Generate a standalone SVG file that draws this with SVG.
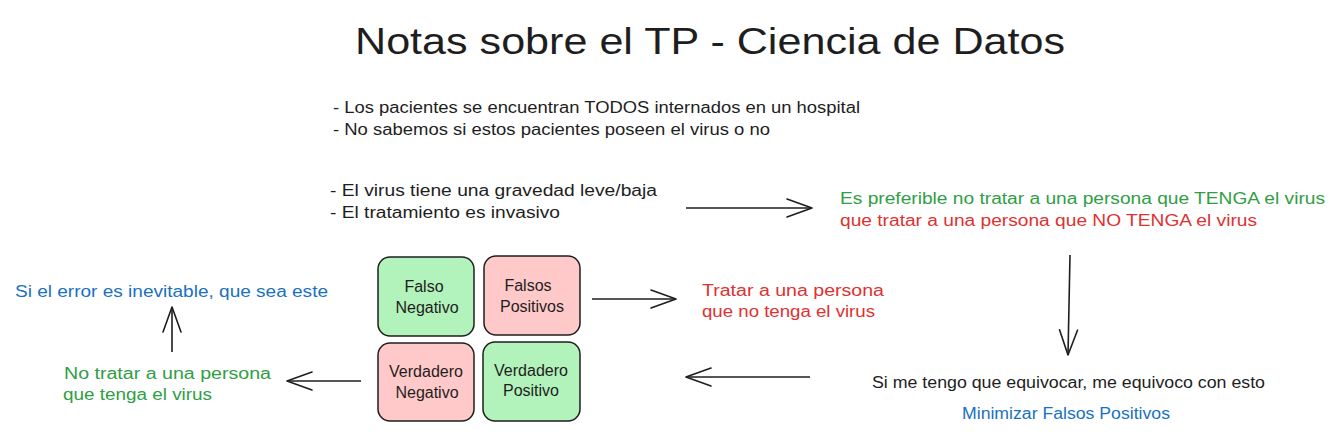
<svg xmlns="http://www.w3.org/2000/svg" width="1342" height="440" viewBox="0 0 1342 440">
<style>
text{font-family:"Liberation Sans","DejaVu Sans",sans-serif;font-size:16px;fill:#1e1e1e;dominant-baseline:central}
.title{font-size:36px}
.g{fill:#2f9e44}
.r{fill:#e03131}
.b{fill:#1971c2}
.c{text-anchor:middle}
.box{stroke:#1e1e1e;stroke-width:1.5}
.gf{fill:#b2f2bb}
.rf{fill:#ffc9c9}
.ar{stroke:#1e1e1e;stroke-width:1.6;fill:none;marker-end:url(#ah)}
</style>
<defs>
<marker id="ah" markerUnits="userSpaceOnUse" markerWidth="40" markerHeight="40" viewBox="-30 -15 40 30" refX="0" refY="0" orient="auto">
<path d="M-25,-9 L0,0 L-25,9" fill="none" stroke="#1e1e1e" stroke-width="1.6" stroke-linecap="round" stroke-linejoin="round"/>
</marker>
</defs>
<rect width="1342" height="440" fill="#ffffff"/>
<g id="title"><text class="title" x="355" y="41" textLength="710" lengthAdjust="spacingAndGlyphs">Notas sobre el TP - Ciencia de Datos</text></g>
<g id="notes1">
<text x="333" y="107" textLength="527" lengthAdjust="spacingAndGlyphs">- Los pacientes se encuentran TODOS internados en un hospital</text>
<text x="333" y="129" textLength="437" lengthAdjust="spacingAndGlyphs">- No sabemos si estos pacientes poseen el virus o no</text>
</g>
<g id="notes2">
<text x="330" y="190" textLength="327" lengthAdjust="spacingAndGlyphs">- El virus tiene una gravedad leve/baja</text>
<text x="330" y="212" textLength="230" lengthAdjust="spacingAndGlyphs">- El tratamiento es invasivo</text>
</g>
<g id="preferible">
<text class="g" x="840" y="198" textLength="485" lengthAdjust="spacingAndGlyphs">Es preferible no tratar a una persona que TENGA el virus</text>
<text class="r" x="840" y="220" textLength="417" lengthAdjust="spacingAndGlyphs">que tratar a una persona que NO TENGA el virus</text>
</g>
<g id="equivocar">
<text x="872" y="382" textLength="393" lengthAdjust="spacingAndGlyphs">Si me tengo que equivocar, me equivoco con esto</text>
</g>
<g id="minimizar">
<text class="b" x="962" y="413" textLength="208" lengthAdjust="spacingAndGlyphs">Minimizar Falsos Positivos</text>
</g>
<g id="falso-negativo">
<rect class="box gf" x="378" y="257" width="96" height="79" rx="12"/>
<text class="c" x="424" y="286">Falso</text>
<text class="c" x="427" y="307">Negativo</text>
</g>
<g id="falsos-positivos">
<rect class="box rf" x="484" y="256" width="96" height="79" rx="12"/>
<text class="c" x="528" y="285">Falsos</text>
<text class="c" x="532" y="306">Positivos</text>
</g>
<g id="verdadero-negativo">
<rect class="box rf" x="378" y="343" width="96" height="78" rx="12"/>
<text class="c" x="426" y="371">Verdadero</text>
<text class="c" x="427" y="392">Negativo</text>
</g>
<g id="verdadero-positivo">
<rect class="box gf" x="483" y="342" width="97" height="79" rx="12"/>
<text class="c" x="531" y="370">Verdadero</text>
<text class="c" x="531" y="390">Positivo</text>
</g>
<g id="tratar">
<text class="r" x="702" y="290" textLength="182" lengthAdjust="spacingAndGlyphs">Tratar a una persona</text>
<text class="r" x="702" y="311" textLength="173" lengthAdjust="spacingAndGlyphs">que no tenga el virus</text>
</g>
<g id="no-tratar">
<text class="g" x="64" y="373" textLength="207" lengthAdjust="spacingAndGlyphs">No tratar a una persona</text>
<text class="g" x="63" y="394" textLength="149" lengthAdjust="spacingAndGlyphs">que tenga el virus</text>
</g>
<g id="inevitable">
<text class="b" x="15" y="291" textLength="313" lengthAdjust="spacingAndGlyphs">Si el error es inevitable, que sea este</text>
</g>
<g id="connectors">
<path class="ar" d="M686,208 L812,208"/>
<path class="ar" d="M1070,255 L1068,355"/>
<path class="ar" d="M810,377 L686,377"/>
<path class="ar" d="M592,299 L676,299"/>
<path class="ar" d="M361,381 L287,381"/>
<path class="ar" d="M172,352 L172,307"/>
</g>
</svg>
